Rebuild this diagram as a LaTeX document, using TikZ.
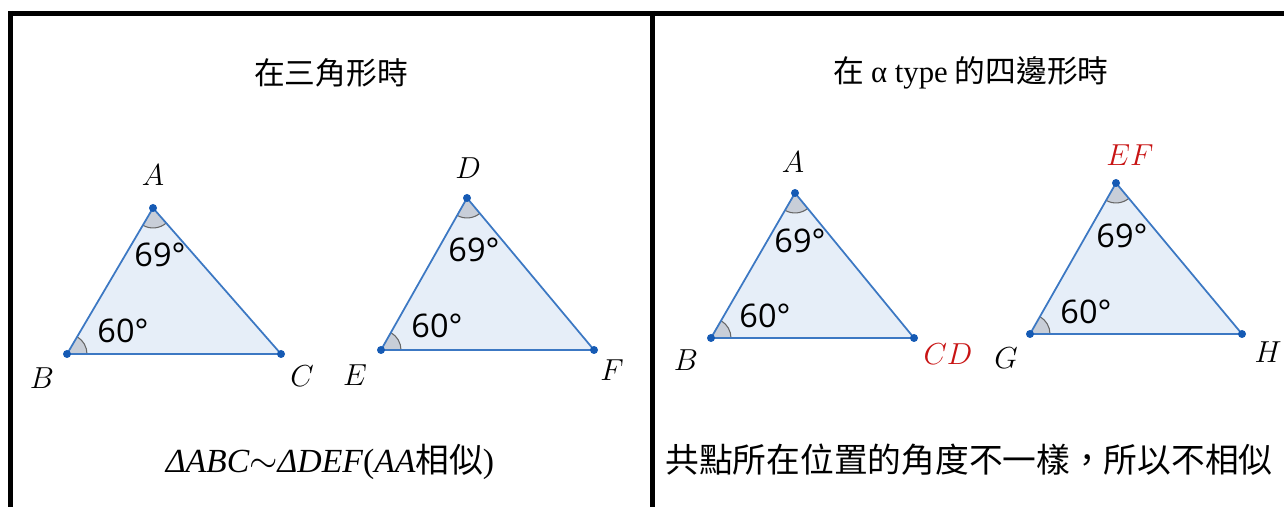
\documentclass[tikz,border=0pt]{standalone}
\usepackage{fontspec}
\newfontfamily\cjk{Noto Sans CJK TC}
\newfontfamily\numfont{Open Sans}
\newfontfamily\latin{Liberation Serif}
\usetikzlibrary{angles}

\definecolor{edgeblue}{RGB}{60,120,195}
\definecolor{dotblue}{RGB}{21,90,180}
\definecolor{triblue}{RGB}{230,238,248}
\definecolor{anggray}{RGB}{200,206,216}
\definecolor{labred}{RGB}{200,20,20}

\begin{document}
\begin{tikzpicture}[x=0.02cm, y=0.02cm,
    frame/.style={line width=2.8pt},
    title/.style={font=\fontsize{17.5}{20}\selectfont\cjk},
    note/.style={font=\fontsize{19.2}{22}\selectfont\cjk},
    tri/.style={fill=triblue},
    side/.style={draw=edgeblue, line width=1pt, line join=round},
    ang/.style={draw=black!60, fill=anggray, line width=0.6pt, angle radius=0.4cm},
    dot/.style={circle, fill=dotblue, inner sep=0pt, minimum size=0.16cm},
    vlabel/.style={font=\fontsize{18}{20}\selectfont},
    deg/.style={font=\fontsize{18.5}{20}\selectfont\numfont}
  ]
  \useasboundingbox (0,0) rectangle (1284,507);
  % frame
  \draw[frame] (8,493.5) -- (1284,493.5);
  \draw[frame] (10.5,496) -- (10.5,0);
  \draw[frame] (652.5,496) -- (652.5,0);

  % titles
  \node[title] (t1) at (331,434) {在三角形時};
  \node[title] (t2) at (971,434) {在 {\latin α type} 的四邊形時};

  % triangle ABC
  \coordinate (A1) at (153,299);
  \coordinate (B1) at (67,153);
  \coordinate (C1) at (281,153);
  \fill[tri] (A1) -- (B1) -- (C1) -- cycle;
  \pic[ang] {angle = C1--B1--A1};
  \pic[ang] {angle = B1--A1--C1};
  \draw[side] (A1) -- (B1) -- (C1) -- cycle;
  \foreach \p in {A1,B1,C1} \node[dot] at (\p) {};
  \node[vlabel] (lA1) at (153,332) {$A$};
  \node[vlabel] (lB1) at (42,129) {$B$};
  \node[vlabel] (lC1) at (302,131) {$C$};
  \node[deg] (a1) at (160,252) {69°};
  \node[deg] (b1) at (123,176) {60°};

  % triangle DEF
  \coordinate (A2) at (467,309);
  \coordinate (B2) at (381,157);
  \coordinate (C2) at (594,157);
  \fill[tri] (A2) -- (B2) -- (C2) -- cycle;
  \pic[ang] {angle = C2--B2--A2};
  \pic[ang] {angle = B2--A2--C2};
  \draw[side] (A2) -- (B2) -- (C2) -- cycle;
  \foreach \p in {A2,B2,C2} \node[dot] at (\p) {};
  \node[vlabel] (lA2) at (468,339) {$D$};
  \node[vlabel] (lB2) at (355,132) {$E$};
  \node[vlabel] (lC2) at (612,137) {$F$};
  \node[deg] (a2) at (474,257) {69°};
  \node[deg] (b2) at (437,181) {60°};

  % quadrilateral, first part
  \coordinate (A3) at (795,314);
  \coordinate (B3) at (711,169);
  \coordinate (C3) at (914,169);
  \fill[tri] (A3) -- (B3) -- (C3) -- cycle;
  \pic[ang] {angle = C3--B3--A3};
  \pic[ang] {angle = B3--A3--C3};
  \draw[side] (A3) -- (B3) -- (C3) -- cycle;
  \foreach \p in {A3,B3,C3} \node[dot] at (\p) {};
  \node[vlabel] (lA3) at (793,345) {$A$};
  \node[vlabel] (lB3) at (686,147) {$B$};
  \node[vlabel, text=labred] (lC3) at (948,153) {$CD$};
  \node[deg] (a3) at (800,266) {69°};
  \node[deg] (b3) at (765,191) {60°};

  % quadrilateral, second part
  \coordinate (A4) at (1116,324);
  \coordinate (B4) at (1030,173);
  \coordinate (C4) at (1242,173);
  \fill[tri] (A4) -- (B4) -- (C4) -- cycle;
  \pic[ang] {angle = C4--B4--A4};
  \pic[ang] {angle = B4--A4--C4};
  \draw[side] (A4) -- (B4) -- (C4) -- cycle;
  \foreach \p in {A4,B4,C4} \node[dot] at (\p) {};
  \node[vlabel, text=labred] (lA4) at (1130,352) {$EF$};
  \node[vlabel] (lB4) at (1006,149) {$G$};
  \node[vlabel] (lC4) at (1268,155) {$H$};
  \node[deg] (a4) at (1122,271) {69°};
  \node[deg] (b4) at (1086,195) {60°};

  % conclusions
  \node[note] (n1) at (330,45) {{\latin\itshape ΔABC}$\sim${\latin\itshape ΔDEF}{\latin(}{\latin\itshape AA}相似{\latin)}};
  \node[note] (n2) at (969,47) {共點所在位置的角度不一樣，所以不相似};
\end{tikzpicture}
\end{document}
